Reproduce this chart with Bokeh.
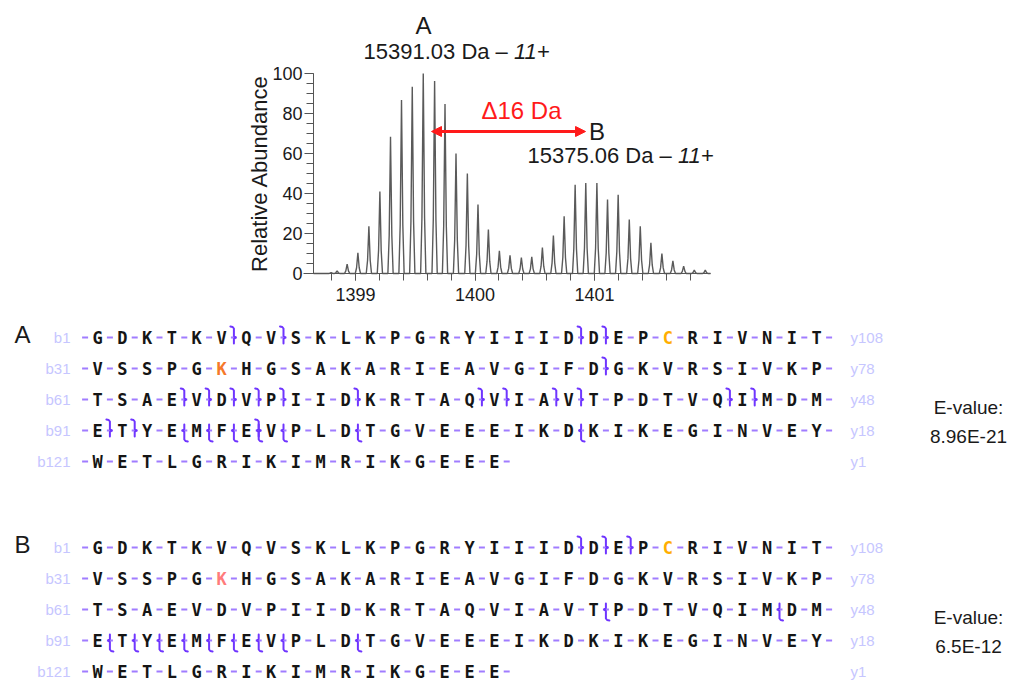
from bokeh.plotting import figure
from bokeh.models import Range1d, FixedTicker, Label, Arrow, NormalHead, LinearAxis
from bokeh.embed import file_html
from bokeh.resources import INLINE
from bokeh.core.properties import value

# ---------------- spectrum data ----------------
peak_mz = [1398.796, 1398.846, 1398.930, 1399.020, 1399.112, 1399.204, 1399.293,
           1399.385, 1399.475, 1399.567, 1399.662, 1399.749, 1399.841, 1399.936,
           1400.025, 1400.112, 1400.204, 1400.293, 1400.388, 1400.475, 1400.564,
           1400.656, 1400.746, 1400.838, 1400.927, 1401.020, 1401.109, 1401.198,
           1401.291, 1401.383, 1401.472, 1401.564, 1401.656, 1401.746, 1401.835,
           1401.927]
peak_abundance = [0.5, 1.3, 4.7, 10.3, 23.6, 41, 68.4, 86.7, 93.4, 100, 96.3, 84.7,
                  60, 50, 34.5, 22, 11.3, 9.1, 8, 8.3, 13, 19, 28.6, 44.4, 45.2,
                  45.2, 37, 39.4, 27, 23.6, 15.3, 10, 6.3, 3.7, 1.7, 1.7]
x_ticks = [1399, 1400, 1401]
x_minor_ticks = [1398.8, 1399.0, 1399.2, 1399.4, 1399.6, 1399.8, 1400.0, 1400.2,
                 1400.4, 1400.6, 1400.8, 1401.0, 1401.2, 1401.4, 1401.6, 1401.8]
y_ticks = [0, 20, 40, 60, 80, 100]
y_minor_ticks = [0, 5, 10, 15, 20, 25, 30, 35, 40, 45, 50, 55, 60, 65, 70, 75, 80,
                 85, 90, 95, 100]
species_A = "15391.03 Da \u2013 "
species_B = "15375.06 Da \u2013 "
charge = "11+"
delta_text = "\u039416 Da"

# ---------------- sequence data ----------------
seq_rows = ["GDKTKVQVSKLKPGRYIIIDDEPCRIVNIT",
            "VSSPGKHGSAKARIEAVGIFDGKVRSIVKP",
            "TSAEVDVPIIDKRTAQVIAVTPDTVQIMDM",
            "ETYEMFEVPLDTGVEEEIKDKIKEGINVEY",
            "WETLGRIKIMRIKGEEE"]
row_start_labels = ["b1", "b31", "b61", "b91", "b121"]
row_end_labels = ["y108", "y78", "y48", "y18", "y1"]
b_ions_A = [6, 8, 20, 21, 51, 64, 65, 66, 67, 68, 71, 76, 77, 79, 80, 86, 87, 91, 92, 97]
y_ions_A = [94, 95, 96, 97, 98, 101, 110]
b_ions_B = [20, 21, 22]
y_ions_B = [81, 88, 91, 92, 93, 94, 95, 96, 97, 98, 101]
mods_A = {24: "#ffae00", 36: "#f5782a"}
mods_B = {24: "#ffae00", 36: "#ff7b7b"}
evalue_A = "8.96E-21"
evalue_B = "6.5E-12"

SANS = "Liberation Sans"
W, H = 1011, 682

# ---------------- one page-sized figure ----------------
# default ranges: picture pixels (y downwards)
p = figure(width=W, height=H, x_range=Range1d(0, W), y_range=Range1d(H, 0),
           output_backend="svg", toolbar_location=None, min_border=0,
           x_axis_type=None, y_axis_type=None)
p.xgrid.visible = False
p.ygrid.visible = False
p.outline_line_color = None

# spectrum coordinate system: 1399 m/z at picture x 355, 119.5 px per m/z unit;
# abundance 0 at picture y 273, 100 at picture y 73
MZ0_PAGE, PX_PER_MZ = 355, 119.5
AB0_PAGE, PX_PER_AB = 273, 2.0
p.extra_x_ranges = {"mz": Range1d(1399 + (0 - MZ0_PAGE) / PX_PER_MZ,
                                  1399 + (W - MZ0_PAGE) / PX_PER_MZ)}
p.extra_y_ranges = {"ab": Range1d(-(H - AB0_PAGE) / PX_PER_AB,
                                  (AB0_PAGE - 0) / PX_PER_AB)}
XMIN, XMAX = 1398.649, 1401.971
XAXIS_START = 1398.565

prof_x, prof_y = [XMIN], [0]
for c, h in zip(peak_mz, peak_abundance):
    for dx, f in [(-0.022, 0), (-0.011, 0.28), (0, 1), (0.011, 0.28), (0.022, 0)]:
        prof_x.append(c + dx)
        prof_y.append(h * f)
prof_x.append(XMAX)
prof_y.append(0)
p.line(prof_x, prof_y, line_color="#5a5a5a", line_width=1.4,
       x_range_name="mz", y_range_name="ab")

xa = LinearAxis(x_range_name="mz", y_range_name="ab", fixed_location=0,
                bounds=(XAXIS_START, XMAX),
                ticker=FixedTicker(ticks=x_ticks, minor_ticks=x_minor_ticks))
ya = LinearAxis(x_range_name="mz", y_range_name="ab", fixed_location=XMIN,
                bounds=(0, 100),
                ticker=FixedTicker(ticks=y_ticks, minor_ticks=y_minor_ticks))
for ax in (xa, ya):
    ax.axis_line_color = "#555555"
    ax.major_tick_line_color = "#555555"
    ax.minor_tick_line_color = "#555555"
    ax.major_tick_in = 0
    ax.minor_tick_in = 0
    ax.major_label_text_font = SANS
    ax.major_label_text_font_size = "18px"
    ax.major_label_text_color = "#1a1a1a"
xa.major_tick_out = 7
xa.minor_tick_out = 7
xa.major_label_standoff = 7
ya.major_tick_out = 9
ya.minor_tick_out = 7
ya.major_label_standoff = 2
ya.axis_label = "Relative Abundance"
ya.axis_label_text_font = SANS
ya.axis_label_text_font_size = "22px"
ya.axis_label_text_font_style = "normal"
ya.axis_label_text_color = "#1a1a1a"
ya.axis_label_standoff = -3
p.add_layout(xa, "below")
p.add_layout(ya, "left")


def lab(x, y, text, size="22px", color="#1a1a1a", align="center", style="normal"):
    p.add_layout(Label(x=x, y=y, text=text, text_font=SANS, text_font_size=size,
                       text_color=color, text_align=align, text_baseline="middle",
                       text_font_style=style, x_range_name="mz", y_range_name="ab"))


lab(1399.569, 124, "A", size="24px")
lab(1399.067, 111, species_A, align="left")
lab(1400.326, 111, charge, align="left", style="italic")
lab(1400.389, 81.5, delta_text, size="24px", color="#ff1a1a")
lab(1400.955, 71, "B", size="24px", align="left")
lab(1400.439, 59, species_B, align="left")
lab(1401.698, 59, charge, align="left", style="italic")
p.add_layout(Arrow(start=NormalHead(size=10, fill_color="#ff1a1a", line_color="#ff1a1a"),
                   end=NormalHead(size=10, fill_color="#ff1a1a", line_color="#ff1a1a"),
                   x_start=1399.636, y_start=71, x_end=1400.925, y_end=71,
                   line_color="#ff1a1a", line_width=3,
                   x_range_name="mz", y_range_name="ab"))

# ---------------- sequence maps ----------------
STEP_PX = 24.8
X0_PAGE = 97
PX = 1.0 / STEP_PX
p.extra_x_ranges["col"] = Range1d((0 - X0_PAGE) / STEP_PX, (W - X0_PAGE) / STEP_PX)

ROW_STEP = 31
blocks = [("A", 337, b_ions_A, y_ions_A, mods_A, evalue_A),
          ("B", 547, b_ions_B, y_ions_B, mods_B, evalue_B)]

for name, top, b_ions, y_ions, mods, ev in blocks:
    lx, ly, lt, lc = [], [], [], []
    dx0, dx1, dy = [], [], []
    for r, row in enumerate(seq_rows):
        yy = top + r * ROW_STEP
        for c, aa in enumerate(row):
            n = r * 30 + c + 1
            lx.append(c)
            ly.append(yy)
            lt.append(aa)
            lc.append(mods.get(n, "#151515"))
        for k in range(-1, len(row)):
            dx0.append(k + 0.5 - 3 * PX)
            dx1.append(k + 0.5 + 3 * PX)
            dy.append(yy)
    p.segment(x0=dx0, y0=dy, x1=dx1, y1=dy, line_color="#a07cff", line_width=2,
              x_range_name="col")
    p.text(x=lx, y=ly, text=lt, text_color=lc, text_font=value("DejaVu Sans Mono"),
           text_font_size="17px", text_font_style="bold", text_align="center",
           text_baseline="middle", x_range_name="col")
    mxs, mys = [], []
    for b in b_ions:
        r, c = (b - 1) // 30, (b - 1) % 30
        cx, cy = c + 0.5, top + r * ROW_STEP
        mxs.append([cx - 3.5 * PX, cx - 1.2 * PX, cx, cx, cx + 1.8 * PX, cx, cx])
        mys.append([cy - 11, cy - 10.5, cy - 9, cy - 1.5, cy, cy + 1.5, cy + 6])
    for yi in y_ions:
        r, c = (yi - 1) // 30, (yi - 1) % 30
        cx, cy = c + 0.5, top + r * ROW_STEP
        mxs.append([cx, cx, cx - 1.8 * PX, cx, cx, cx + 1.2 * PX, cx + 3.5 * PX])
        mys.append([cy - 6, cy - 1.5, cy, cy + 1.5, cy + 9, cy + 10.5, cy + 11])
    p.multi_line(xs=mxs, ys=mys, line_color="#6f35ff", line_width=2, line_cap="round",
                 line_join="round", x_range_name="col")
    rys = [top + r * ROW_STEP for r in range(len(seq_rows))]
    p.text(x=[70] * len(rys), y=rys, text=row_start_labels,
           text_color="#c6c6ff", text_font=value(SANS), text_font_size="15px",
           text_align="right", text_baseline="middle")
    p.text(x=[850] * len(rys), y=rys, text=row_end_labels,
           text_color="#c6c6ff", text_font=value(SANS), text_font_size="15px",
           text_align="left", text_baseline="middle")
    p.text(x=[22], y=[top - 3], text=[name], text_color="#1a1a1a",
           text_font=value(SANS), text_font_size="24px", text_align="center",
           text_baseline="middle")
    p.text(x=[968, 968], y=[top + 70, top + 99], text=["E-value:", ev],
           text_color="#1a1a1a", text_font=value(SANS), text_font_size="19px",
           text_align="center", text_baseline="middle")

open("out.html", "w").write(file_html(p, INLINE))
